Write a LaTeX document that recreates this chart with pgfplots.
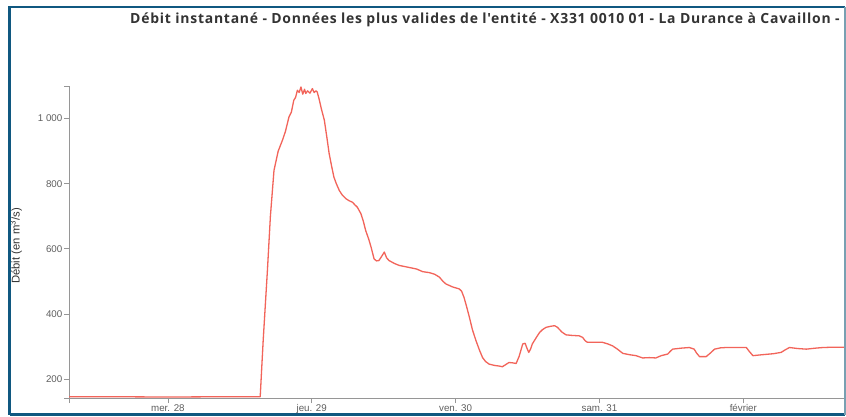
\documentclass[border=0pt]{standalone}
\usepackage{pgfplots}
\pgfplotsset{compat=1.18}
\usepackage{fontspec}
\setmainfont{Liberation Sans}
\newfontfamily\titlefont[LetterSpace=5.5]{Open Sans}
\definecolor{frameblue}{RGB}{16,88,128}
\definecolor{frameright}{RGB}{120,160,178}
\definecolor{linered}{RGB}{242,100,90}
\definecolor{axisgray}{RGB}{150,150,150}
\definecolor{labgray}{RGB}{95,95,95}
\definecolor{titlegray}{RGB}{51,51,51}
\begin{document}
\begin{tikzpicture}[x=1bp,y=1bp]
\useasboundingbox (0,0) rectangle (846,416);
\fill[white] (0,0) rectangle (846,416);
\begin{axis}[
  at={(69bp,18bp)}, anchor=south west,
  scale only axis, width=775bp, height=312bp,
  xmin=-16.5, xmax=112.8, ymin=142, ymax=1100,
  axis x line*=bottom, axis y line*=left,
  axis line style={-, axisgray, line width=0.8bp},
  xtick={0,24,48,72,96},
  xticklabels={mer. 28, jeu. 29, ven. 30, sam. 31, février},
  ytick={200,400,600,800,1000},
  yticklabels={200,400,600,800,1 000},
  extra x ticks={-16.5}, extra x tick labels={},
  extra y ticks={142,1100}, extra y tick labels={},
  tick align=outside, major tick length=5bp,
  tick style={axisgray, line width=0.8bp},
  ticklabel style={font=\fontsize{9.8}{11}\selectfont, text=labgray},
  xticklabel style={inner sep=1.5bp},
  yticklabel style={inner sep=1.5bp},
  /pgf/number format/assume math mode=true,
  clip=true,
]
\addplot[linered, line width=1.3bp, line join=round] coordinates {
(-16.5,146) (-10,146) (0,145) (10,146) (15.4,146)
(15.9,320) (16.6,533) (17.1,700) (17.7,841) (18.4,900) (19.1,933) (19.6,960)
(20.2,1005) (20.6,1020) (21.0,1056) (21.3,1065) (21.6,1087) (21.9,1080)
(22.2,1097) (22.5,1075) (22.8,1090) (23.0,1077) (23.3,1085) (23.7,1078)
(24.1,1092) (24.4,1080) (24.7,1085) (24.9,1082) (25.2,1062) (25.6,1030)
(26.1,995) (26.5,945) (26.9,893) (27.3,855) (27.7,820) (28.1,800) (28.6,779)
(29.1,765) (29.7,754) (30.2,748) (30.8,743) (31.2,735) (31.6,728) (32.2,708)
(32.6,685) (33.0,656) (33.5,630) (33.9,605) (34.4,569) (34.8,563) (35.2,564)
(35.7,578) (36.1,590) (36.5,572) (36.9,564) (37.8,555) (38.6,549) (39.4,546)
(40.2,543) (41.5,538) (42.5,530) (43.6,527) (44.5,522) (45.3,513) (45.9,500)
(46.4,492) (47.5,483) (48.6,477) (49.0,470) (49.4,451) (49.8,425) (50.3,390)
(50.8,352) (51.4,318) (52.0,288) (52.5,266) (53.0,254) (53.6,246) (54.5,242)
(55.3,240) (55.8,238) (56.4,245) (56.9,251) (57.5,250) (58.1,248) (58.6,270)
(59.2,308) (59.6,310) (59.9,295) (60.2,282) (60.5,292) (60.8,308) (61.4,326)
(62.0,343) (62.5,352) (63.1,359) (63.8,362) (64.5,364) (65.0,359) (65.7,345)
(66.4,336) (67.5,334) (68.6,333) (69.2,328) (69.6,318) (70.0,313) (71.3,313)
(72.5,313) (73.4,308) (74.2,302) (75.0,292) (75.9,279) (77.0,275) (78.1,272)
(79.2,265) (80.3,266) (81.4,265) (82.3,272) (83.4,277) (83.8,285) (84.2,292)
(85.6,295) (87.0,297) (87.8,292) (88.2,280) (88.7,269) (89.8,269) (90.5,280)
(91.2,292) (92.2,296) (93.1,297) (95.0,297) (96.5,297) (97.0,285) (97.6,272)
(99.2,275) (101,278) (102.3,282) (103.0,290) (103.7,297) (105,294) (106.5,292)
(108,295) (109.3,297) (111,298) (113,298)
};
\end{axis}
\node[rotate=90, font=\fontsize{11.3}{13}\selectfont, text=titlegray] at (16,170) {Débit (en m\textsuperscript{3}/s)};
\node[anchor=base west, inner sep=0pt, font=\titlefont\bfseries\fontsize{14}{16}\selectfont, text=titlegray] at (130,392) {Débit instantané - Données les plus valides de l'entité - X331 0010 01 - La Durance à Cavaillon -};
\draw[frameblue, line width=2.5bp] (9.5,1.5) -- (9.5,409.2) -- (845,409.2);
\draw[frameblue, line width=2.5bp] (9.5,1.5) -- (845,1.5);
\draw[frameright, line width=1.5bp] (845,1.5) -- (845,409.2);
\end{tikzpicture}
\end{document}
